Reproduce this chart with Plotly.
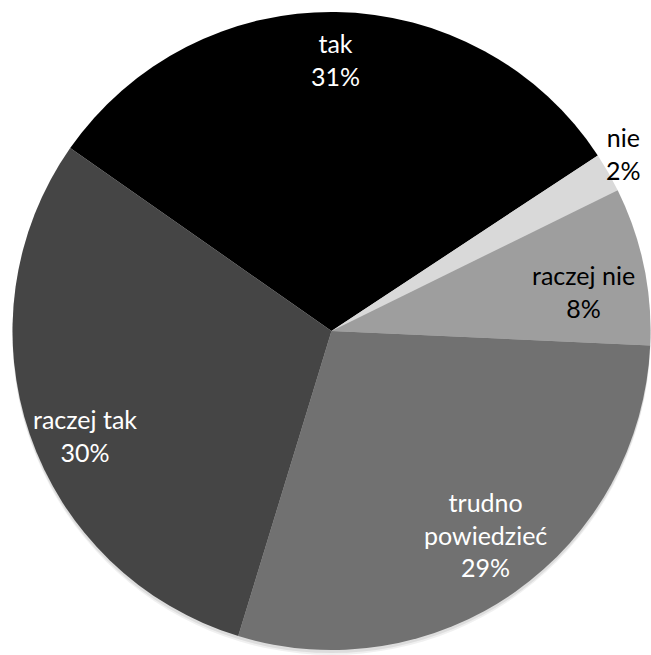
import math
import plotly.graph_objects as go

# Survey answers and their shares (%)
labels = ["tak", "nie", "raczej nie", "trudno powiedzieć", "raczej tak"]
shares = [31, 2, 8, 29, 30]
slice_colors = ["#000000", "#d9d9d9", "#9e9e9e", "#717171", "#454545"]
text_colors = ["#ffffff", "#000000", "#000000", "#ffffff", "#ffffff"]
# how each label is split over lines
label_lines = [["tak"], ["nie"], ["raczej nie"], ["trudno", "powiedzieć"], ["raczej tak"]]

W, H = 651, 655
ROTATION = 305  # first slice starts here, degrees clockwise from 12 o'clock

# pie placement in pixels
x0_px, x1_px = 12, 651
y0_px, y1_px = 12, 650  # from top
cx = (x0_px + x1_px) / 2
cy = (y0_px + y1_px) / 2
R = min(x1_px - x0_px, y1_px - y0_px) / 2

# label radial position (fraction of radius) and small angular nudges
label_radius = [0.85, 1.07, 0.80, 0.80, 0.84]
label_nudge = [0, -1.5, 3, -2, -4]


def pie_domain(dy=0):
    return dict(
        x=[x0_px / W, x1_px / W],
        y=[max(0.0, (H - y1_px - dy) / H), (H - y0_px - dy) / H],
    )


fig = go.Figure()

# soft drop shadow under the pie
for dy, alpha in [(5, 0.06), (3, 0.08)]:
    fig.add_trace(
        go.Pie(
            values=[1],
            marker=dict(colors=[f"rgba(0,0,0,{alpha})"], line=dict(width=0)),
            textinfo="none",
            hoverinfo="skip",
            showlegend=False,
            domain=pie_domain(dy),
        )
    )

fig.add_trace(
    go.Pie(
        labels=labels,
        values=shares,
        sort=False,
        direction="clockwise",
        rotation=ROTATION,
        marker=dict(colors=slice_colors, line=dict(width=0)),
        textinfo="none",
        hoverinfo="label+percent",
        showlegend=False,
        domain=pie_domain(),
    )
)

total = sum(shares)
start = ROTATION
annotations = []
for i, v in enumerate(shares):
    sweep = 360.0 * v / total
    mid = start + sweep / 2 + label_nudge[i]
    start += sweep
    a = math.radians(mid)
    px = cx + R * label_radius[i] * math.sin(a)
    py = cy - R * label_radius[i] * math.cos(a)
    pct = round(100.0 * v / total)
    text = "<br>".join(label_lines[i] + [f"{pct}%"])
    annotations.append(
        dict(
            x=px / W,
            y=1 - py / H,
            xref="paper",
            yref="paper",
            text=text,
            showarrow=False,
            xanchor="center",
            yanchor="middle",
            align="center",
            font=dict(family="Lato", size=25, color=text_colors[i]),
        )
    )

fig.update_layout(
    width=W,
    height=H,
    margin=dict(l=0, r=0, t=0, b=0),
    paper_bgcolor="white",
    plot_bgcolor="white",
    annotations=annotations,
)

fig.write_html("out.html")
